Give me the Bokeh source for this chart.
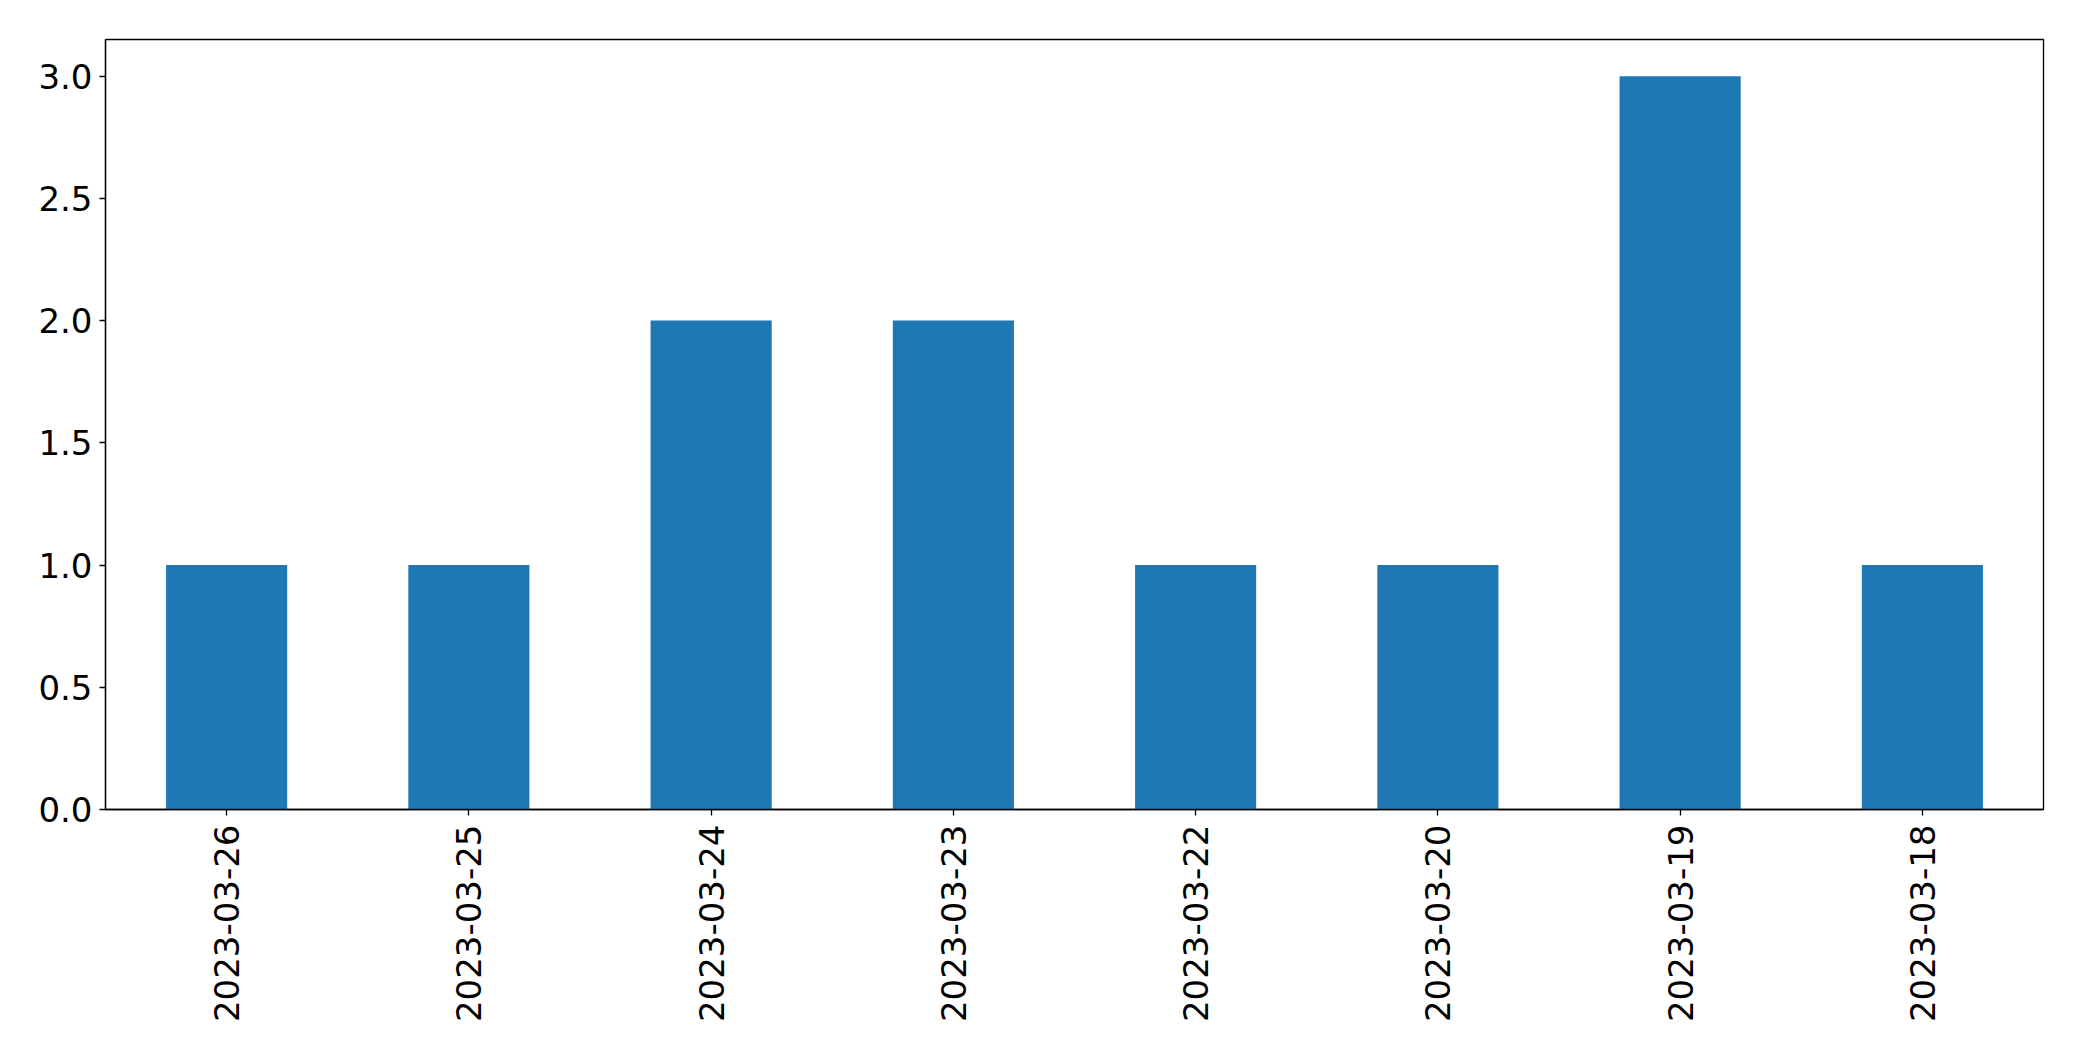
import math
from bokeh.plotting import figure
from bokeh.models import FactorRange, Range1d, FixedTicker, NumeralTickFormatter
from bokeh.embed import file_html
from bokeh.resources import INLINE

dates = ["2023-03-26", "2023-03-25", "2023-03-24", "2023-03-23",
         "2023-03-22", "2023-03-20", "2023-03-19", "2023-03-18"]
counts = [1, 1, 2, 2, 1, 1, 3, 1]
y_ticks = [0.0, 0.5, 1.0, 1.5, 2.0, 2.5, 3.0]

p = figure(
    x_range=FactorRange(factors=dates, range_padding=0),
    y_range=Range1d(0, 3.15),
    width=2066, height=1045,
    output_backend="svg", toolbar_location=None,
    min_border_left=105, min_border_right=23, min_border_top=39, min_border_bottom=236,
)
p.vbar(x=dates, top=counts, width=0.5, fill_color="#1f77b4", line_color=None)

p.xgrid.visible = False
p.ygrid.visible = False
p.outline_line_color = "black"
p.outline_line_width = 1.3
p.outline_line_alpha = 1
p.background_fill_color = "white"
p.border_fill_color = "white"

for ax in (p.xaxis[0], p.yaxis[0]):
    ax.axis_line_color = "black"
    ax.axis_line_width = 1.3
    ax.major_tick_line_color = "black"
    ax.major_tick_line_width = 1.3
    ax.major_tick_out = 6
    ax.major_tick_in = 0
    ax.minor_tick_line_color = None
    ax.major_label_text_font = "DejaVu Sans"
    ax.major_label_text_font_size = "34px"
    ax.major_label_text_color = "black"

p.yaxis.ticker = FixedTicker(ticks=y_ticks)
p.yaxis.formatter = NumeralTickFormatter(format="0.0")
p.yaxis.major_label_standoff = 7
p.xaxis.major_label_orientation = math.pi / 2
p.xaxis.major_label_standoff = 9

open("out.html", "w").write(file_html(p, INLINE))
